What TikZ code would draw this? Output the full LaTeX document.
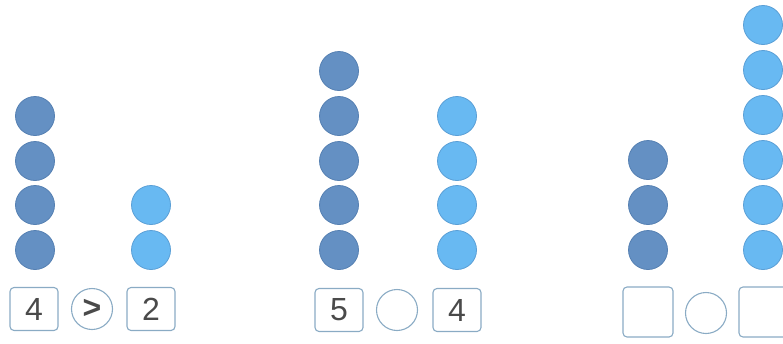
\documentclass[tikz,border=0pt]{standalone}
\usepackage{fontspec}
\setmainfont{Liberation Sans}
\definecolor{darkdot}{HTML}{6490C3}
\definecolor{darkedge}{HTML}{5580B2}
\definecolor{lightdot}{HTML}{68B9F2}
\definecolor{lightedge}{HTML}{5A9FD6}
\definecolor{boxedge}{HTML}{8AABC4}
\definecolor{numtext}{HTML}{4A4A4A}
\tikzset{
  ddot/.style={circle, fill=darkdot, draw=darkedge, line width=0.8pt, minimum size=39pt, inner sep=0pt},
  ldot/.style={circle, fill=lightdot, draw=lightedge, line width=0.8pt, minimum size=39pt, inner sep=0pt},
  numbox/.style={rectangle, rounded corners=4pt, draw=boxedge, line width=1.1pt, minimum width=48pt, minimum height=43pt, inner sep=0pt, text=numtext, font=\fontsize{32}{32}\selectfont},
  cmpcirc/.style={circle, draw=boxedge, line width=1.1pt, minimum size=41pt, inner sep=0pt, text=numtext, font=\fontsize{32}{32}\selectfont\bfseries}
}
\begin{document}
\begin{tikzpicture}[x=1pt,y=-1pt]
\useasboundingbox (0,0) rectangle (783,343);
% group 1
\foreach \i/\y in {1/116,2/161,3/205,4/250} \node[ddot] (a\i) at (35,\y) {};
\foreach \i/\y in {1/205,2/250} \node[ldot] (b\i) at (151,\y) {};
\node[numbox] (n1) at (34,309) {4};
\node[cmpcirc] (c1) at (92,309) {>};
\node[numbox] (n2) at (151,309) {2};
% group 2
\foreach \i/\y in {1/71,2/116,3/161,4/205,5/250} \node[ddot] (d\i) at (339,\y) {};
\foreach \i/\y in {1/116,2/161,3/205,4/250} \node[ldot] (e\i) at (457,\y) {};
\node[numbox] (n3) at (339,310) {5};
\node[cmpcirc] (c2) at (397,310) {};
\node[numbox] (n4) at (457,310) {4};
% group 3
\foreach \i/\y in {1/160,2/205,3/250} \node[ddot] (f\i) at (648,\y) {};
\foreach \i/\y in {1/25,2/70,3/115,4/160,5/205,6/250} \node[ldot] (g\i) at (763,\y) {};
\node[numbox, minimum width=50pt, minimum height=50pt] (n5) at (648,312) {};
\node[cmpcirc] (c3) at (706,313) {};
\node[numbox, minimum width=50pt, minimum height=50pt] (n6) at (764,312) {};
\end{tikzpicture}
\end{document}
